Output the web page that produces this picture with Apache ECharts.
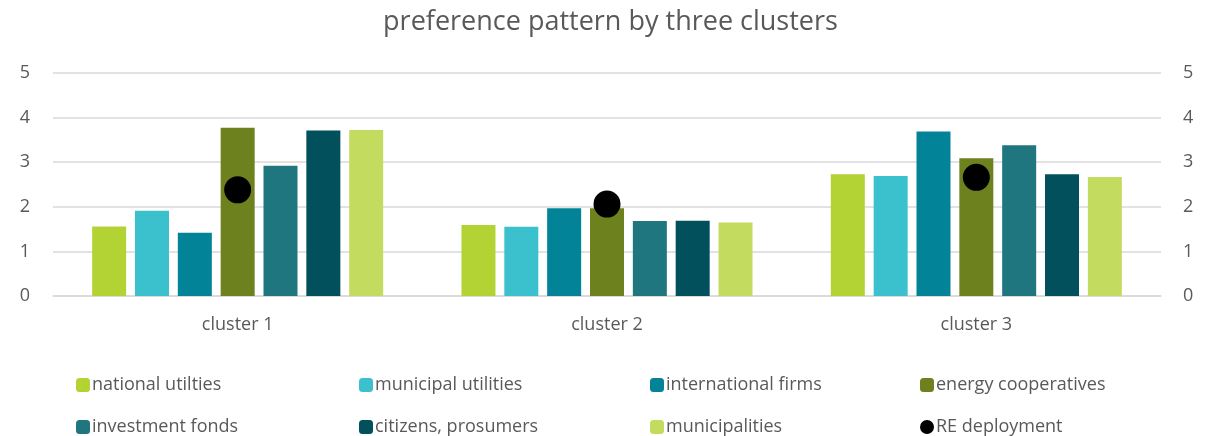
<!DOCTYPE html>
<html lang="en">
<head>
<meta charset="UTF-8">
<title>preference pattern by three clusters</title>
<style>
  * { padding: 0; margin: 0; }
  body { background: #fff; }
</style>
</head>
<body>
<div id="main" style="width: 1221px;height:436px;"></div>
<script src="https://cdn.jsdelivr.net/npm/echarts@6/dist/echarts.min.js"></script>
<script>
var categories = ['cluster 1', 'cluster 2', 'cluster 3'];
var seriesNames = ['national utilties', 'municipal utilities', 'international firms', 'energy cooperatives',
                   'investment fonds', 'citizens, prosumers', 'municipalities'];
var seriesColors = ['#B3D335', '#3BC1CD', '#028397', '#6E811F', '#1F767E', '#02505C', '#C3DC60'];
var nationalUtilties = [1.56, 1.59, 2.73];
var municipalUtilities = [1.91, 1.55, 2.69];
var internationalFirms = [1.42, 1.97, 3.69];
var energyCooperatives = [3.77, 1.97, 3.09];
var investmentFonds = [2.92, 1.68, 3.38];
var citizensProsumers = [3.71, 1.69, 2.73];
var municipalities = [3.72, 1.65, 2.67];
var reDeployment = [2.38, 2.06, 2.66];
var yTicks = [0, 1, 2, 3, 4, 5];

var barValues = [nationalUtilties, municipalUtilities, internationalFirms, energyCooperatives,
                 investmentFonds, citizensProsumers, municipalities];

var font = '"Open Sans", "Liberation Sans", sans-serif';
var textGrey = '#595959';

var series = barValues.map(function (vals, i) {
    return {
        name: seriesNames[i],
        type: 'bar',
        data: vals,
        barWidth: 34,
        barGap: '26%',
        itemStyle: { color: seriesColors[i] }
    };
});
series.push({
    name: 'RE deployment',
    type: 'scatter',
    yAxisIndex: 1,
    data: reDeployment,
    symbol: 'circle',
    symbolSize: 27,
    itemStyle: { color: '#000', opacity: 1 },
    z: 5
});

// legend laid out as 2 rows x 4 columns, like the original
var legendNames = seriesNames.concat(['RE deployment']);
var colX = [76, 359, 650, 920];
var rowY = [376, 418];
var legends = legendNames.map(function (name, i) {
    return {
        data: [name],
        left: colX[i % 4],
        top: rowY[Math.floor(i / 4)],
        padding: 0,
        itemWidth: 14,
        itemHeight: 14,
        itemGap: 0,
        itemStyle: { opacity: 1 },
        textStyle: { fontFamily: font, fontSize: 18, color: textGrey, padding: [0, 0, 0, -3] },
        selectedMode: false
    };
});

var option = {
    animation: false,
    color: seriesColors.concat(['#000']),
    title: {
        text: 'preference pattern by three clusters',
        left: 'center',
        top: 4,
        textStyle: { fontFamily: font, fontSize: 27, fontWeight: 'normal', color: textGrey }
    },
    legend: legends,
    grid: { left: 53, right: 60, top: 73, bottom: 140, containLabel: false },
    xAxis: {
        type: 'category',
        data: categories,
        axisLine: { lineStyle: { color: '#D9D9D9', width: 1.5 } },
        axisTick: { show: false },
        axisLabel: { fontFamily: font, fontSize: 18, color: textGrey, margin: 20 }
    },
    yAxis: [
        {
            type: 'value', min: 0, max: 5, interval: 1,
            axisLine: { show: false }, axisTick: { show: false },
            axisLabel: { fontFamily: font, fontSize: 18, color: textGrey, margin: 23,
                formatter: function (v) { return yTicks.indexOf(v) >= 0 ? String(v) : ''; } },
            splitLine: { lineStyle: { color: '#D9D9D9', width: 1.5 } }
        },
        {
            type: 'value', min: 0, max: 5, interval: 1, position: 'right',
            axisLine: { show: false }, axisTick: { show: false },
            axisLabel: { fontFamily: font, fontSize: 18, color: textGrey, margin: 22 },
            splitLine: { show: false }
        }
    ],
    series: series
};

var myChart = echarts.init(document.getElementById('main'));
myChart.setOption(option);
</script>
</body>
</html>
